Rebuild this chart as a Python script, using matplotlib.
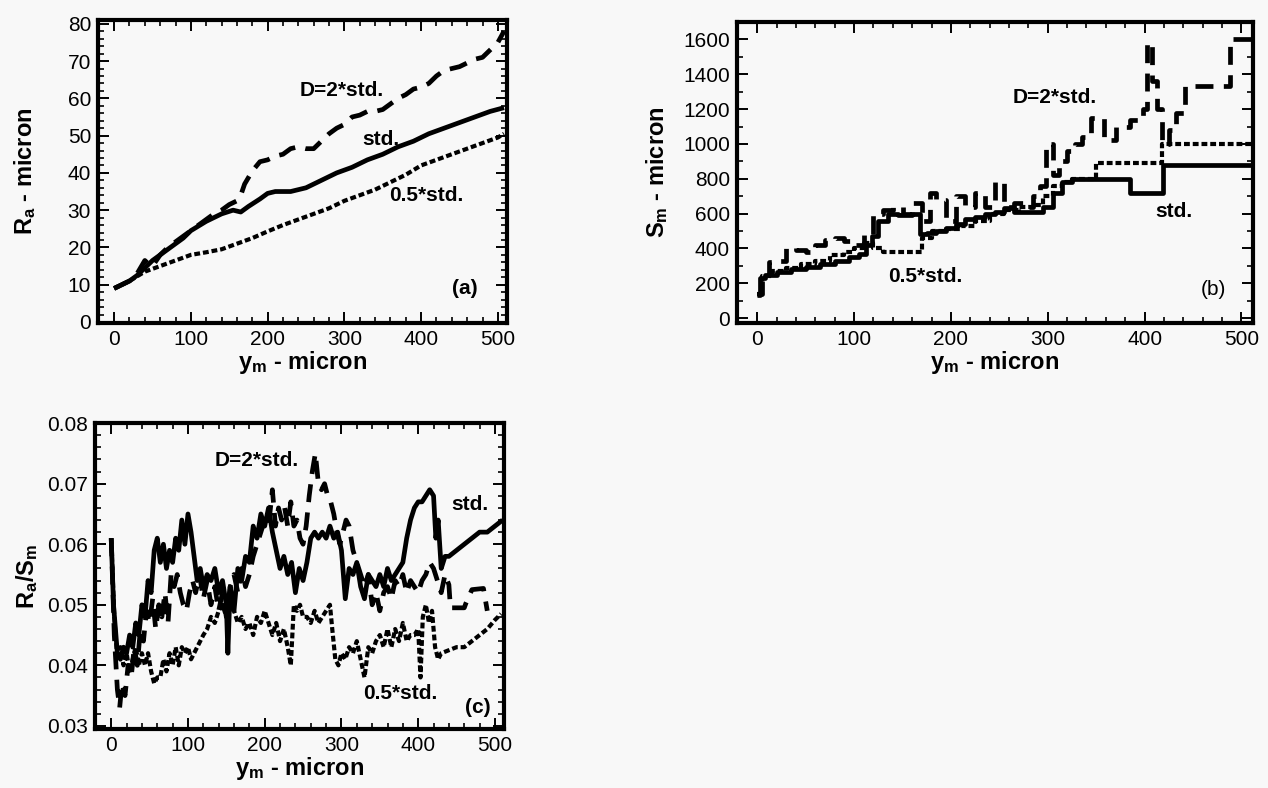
import numpy as np
import matplotlib
matplotlib.use("Agg")
import matplotlib.pyplot as plt
from matplotlib.ticker import MultipleLocator

plt.rcParams['font.family'] = ['Liberation Sans', 'DejaVu Sans']
plt.rcParams['mathtext.fontset'] = 'custom'
plt.rcParams['mathtext.bf'] = 'Liberation Sans:bold'
plt.rcParams['mathtext.rm'] = 'Liberation Sans'
plt.rcParams['mathtext.default'] = 'bf'

# ---- (a) R_a vs y_m ----
a_x_std = [0, 10, 20, 30, 40, 50, 60, 70, 80, 90, 100, 120, 140, 155, 165, 175, 190, 200, 210,
           230, 250, 270, 290, 310, 330, 350, 370, 390, 410, 430, 450, 470, 490, 508]
a_std = [9, 10, 11, 12.5, 14.5, 16.5, 18, 19.5, 21, 22.5, 24.5, 27, 29, 30, 29.5, 31, 33, 34.5, 35,
         35, 36, 38, 40, 41.5, 43.5, 45, 47, 48.5, 50.5, 52, 53.5, 55, 56.5, 57.5]

a_x_half = [0, 20, 40, 60, 80, 100, 120, 140, 160, 180, 200, 220, 240, 260, 280, 300, 320, 340,
            360, 380, 400, 420, 440, 460, 480, 500, 508]
a_half = [9, 11, 13.5, 15, 16.5, 18, 18.7, 19.5, 21, 22.5, 24.3, 26, 27.5, 29, 30.5, 32.5, 34, 35.5,
          37.5, 39.5, 42, 43.5, 45, 46.5, 48, 49.5, 50.5]

a_x_two = [0, 10, 20, 30, 40, 45, 50, 60, 70, 80, 90, 100, 110, 120, 130, 140, 150, 160, 165, 170,
           180, 190, 200, 210, 220, 230, 240, 250, 260, 270, 280, 290, 300, 310, 320, 330, 340, 350,
           360, 370, 380, 390, 400, 410, 420, 430, 440, 450, 460, 470, 480, 490, 500, 508]
a_two = [9, 10, 11, 13, 16.5, 15.5, 15, 18, 20, 21.5, 23, 24.5, 26, 27.5, 29, 30, 31.5, 32.5, 34, 37,
         40.5, 43, 43.5, 44.5, 45, 46.5, 47, 46.5, 46.5, 48.5, 50.5, 52, 53, 55, 55.5, 56.5, 56.5, 57,
         58.5, 60, 61, 62.5, 63, 64, 66, 67.5, 68, 68.5, 69.5, 70.5, 71, 73, 75, 78]

# ---- (b) S_m vs y_m (stepped) ----
b_x_std = [0, 3, 8, 20, 35, 50, 65, 80, 95, 105, 112, 118, 125, 135, 145, 160, 168, 175, 185, 195,
           205, 215, 225, 235, 245, 255, 265, 295, 305, 315, 325, 385, 419, 515]
b_std = [130, 230, 250, 265, 280, 295, 310, 330, 350, 370, 420, 470, 560, 600, 590, 600, 480, 490,
         500, 520, 540, 570, 580, 600, 610, 630, 610, 640, 720, 780, 800, 720, 880, 880]

b_x_half = [0, 5, 15, 30, 45, 60, 75, 90, 100, 110, 120, 130, 160, 170, 180, 195, 210, 225, 240,
            255, 270, 285, 295, 305, 315, 325, 350, 418, 515]
b_half = [140, 240, 270, 290, 310, 330, 360, 380, 400, 430, 400, 380, 380, 460, 500, 510, 530, 560,
          600, 620, 640, 650, 700, 760, 780, 800, 890, 1000, 1000]

b_x_two = [0, 5, 12, 20, 30, 40, 50, 60, 70, 80, 90, 100, 110, 120, 130, 140, 150, 160, 170, 178,
           185, 195, 205, 215, 225, 235, 245, 255, 265, 275, 285, 292, 298, 305, 312, 320, 328, 335,
           345, 358, 370, 385, 398, 403, 408, 413, 418, 425, 432, 442, 470, 488, 510]
b_two = [140, 250, 320, 330, 400, 390, 380, 420, 450, 460, 440, 420, 480, 600, 620, 640, 600, 660,
         560, 720, 680, 560, 700, 640, 720, 640, 780, 640, 660, 640, 700, 760, 1000, 820, 900, 960,
         1000, 1040, 1150, 1020, 1100, 1140, 1200, 1580, 1360, 1200, 1000, 1080, 1180, 1330, 1330,
         1600, 1610]

# ---- (c) R_a/S_m vs y_m ----
c_x_std = [0, 3, 8, 12, 16, 20, 24, 28, 32, 36, 40, 44, 48, 52, 56, 60, 64, 68, 72, 76, 80, 84, 88,
           92, 96, 100, 104, 108, 112, 116, 120, 125, 130, 135, 140, 145, 150, 152, 155, 160, 165,
           170, 175, 180, 185, 190, 195, 200, 205, 210, 215, 220, 225, 230, 235, 240, 245, 250, 255,
           260, 265, 270, 275, 280, 285, 290, 295, 300, 305, 310, 315, 320, 325, 330, 335, 340, 345,
           350, 355, 360, 365, 370, 375, 380, 385, 390, 395, 400, 405, 410, 415, 420, 423, 426, 430,
           435, 440, 450, 460, 470, 480, 490, 500, 510]
c_std = [0.061, 0.050, 0.042, 0.041, 0.043, 0.042, 0.045, 0.043, 0.047, 0.045, 0.050, 0.048, 0.054,
         0.052, 0.059, 0.061, 0.057, 0.060, 0.056, 0.059, 0.057, 0.061, 0.059, 0.064, 0.060, 0.065,
         0.062, 0.058, 0.054, 0.056, 0.053, 0.055, 0.054, 0.056, 0.052, 0.054, 0.050, 0.042, 0.053,
         0.049, 0.056, 0.054, 0.058, 0.057, 0.063, 0.061, 0.065, 0.063, 0.066, 0.062, 0.059, 0.056,
         0.058, 0.055, 0.057, 0.052, 0.056, 0.054, 0.057, 0.061, 0.062, 0.061, 0.062, 0.061, 0.063,
         0.061, 0.062, 0.059, 0.051, 0.056, 0.055, 0.057, 0.053, 0.051, 0.055, 0.054, 0.053, 0.055,
         0.053, 0.056, 0.054, 0.055, 0.056, 0.057, 0.061, 0.064, 0.066, 0.067, 0.067, 0.068, 0.069,
         0.068, 0.061, 0.064, 0.056, 0.058, 0.058, 0.059, 0.060, 0.061, 0.062, 0.062, 0.063, 0.064]

c_x_two = [0, 4, 8, 11, 14, 18, 22, 26, 30, 34, 38, 42, 46, 50, 54, 58, 62, 66, 70, 74, 78, 82, 86,
           90, 94, 98, 102, 106, 110, 115, 120, 125, 130, 135, 140, 145, 150, 155, 160, 165, 170,
           175, 180, 185, 190, 195, 200, 205, 210, 214, 218, 222, 226, 230, 234, 238, 242, 246, 250,
           254, 258, 262, 266, 270, 274, 278, 282, 286, 290, 294, 298, 302, 306, 310, 315, 320, 325,
           330, 335, 340, 345, 350, 355, 360, 365, 370, 375, 380, 385, 390, 395, 400, 405, 410, 415,
           420, 425, 430, 435, 440, 442, 460, 462, 470, 485, 490]
c_two = [0.061, 0.045, 0.036, 0.033, 0.037, 0.035, 0.040, 0.038, 0.043, 0.040, 0.046, 0.044, 0.049,
         0.047, 0.051, 0.046, 0.050, 0.048, 0.052, 0.047, 0.055, 0.053, 0.055, 0.052, 0.050, 0.049,
         0.052, 0.054, 0.052, 0.055, 0.051, 0.054, 0.050, 0.053, 0.049, 0.052, 0.048, 0.053, 0.055,
         0.052, 0.056, 0.053, 0.055, 0.058, 0.060, 0.062, 0.064, 0.063, 0.069, 0.063, 0.066, 0.064,
         0.066, 0.063, 0.067, 0.063, 0.064, 0.061, 0.060, 0.063, 0.068, 0.072, 0.075, 0.070, 0.069,
         0.070, 0.068, 0.067, 0.065, 0.062, 0.060, 0.062, 0.064, 0.063, 0.059, 0.057, 0.055, 0.053,
         0.055, 0.050, 0.052, 0.049, 0.052, 0.053, 0.051, 0.054, 0.053, 0.055, 0.052, 0.054, 0.053,
         0.052, 0.054, 0.055, 0.057, 0.056, 0.054, 0.052, 0.055, 0.0533, 0.0495, 0.0495, 0.0502,
         0.0525, 0.0527, 0.049]

c_x_half = [0, 4, 8, 12, 16, 20, 24, 28, 32, 36, 40, 44, 48, 52, 56, 60, 64, 68, 72, 76, 80, 84, 88,
            92, 96, 100, 104, 108, 112, 116, 120, 125, 130, 135, 140, 145, 150, 155, 160, 165, 170,
            175, 180, 185, 190, 195, 200, 205, 210, 215, 220, 225, 230, 234, 238, 242, 246, 250, 255,
            260, 265, 270, 275, 280, 285, 288, 292, 296, 300, 305, 310, 315, 320, 325, 330, 335, 340,
            345, 350, 355, 360, 365, 370, 375, 380, 385, 390, 395, 400, 403, 406, 410, 414, 418, 422,
            426, 430, 440, 450, 460, 470, 480, 490, 500, 508]
c_half = [0.061, 0.048, 0.041, 0.043, 0.040, 0.042, 0.039, 0.041, 0.043, 0.040, 0.042, 0.040, 0.042,
          0.039, 0.037, 0.038, 0.038, 0.041, 0.039, 0.042, 0.040, 0.043, 0.040, 0.043, 0.042, 0.043,
          0.041, 0.042, 0.043, 0.044, 0.045, 0.046, 0.048, 0.047, 0.049, 0.050, 0.048, 0.050, 0.049,
          0.047, 0.048, 0.046, 0.047, 0.045, 0.048, 0.047, 0.049, 0.047, 0.045, 0.047, 0.044, 0.046,
          0.043, 0.040, 0.050, 0.049, 0.050, 0.048, 0.048, 0.047, 0.049, 0.047, 0.048, 0.049, 0.050,
          0.046, 0.041, 0.040, 0.042, 0.041, 0.043, 0.042, 0.044, 0.041, 0.038, 0.043, 0.042, 0.044,
          0.045, 0.043, 0.046, 0.043, 0.046, 0.044, 0.047, 0.044, 0.045, 0.045, 0.046, 0.038, 0.048,
          0.050, 0.047, 0.049, 0.043, 0.041, 0.042, 0.0425, 0.043, 0.043, 0.044, 0.045, 0.046,
          0.0475, 0.0485]

bg = '#f8f8f8'
fig = plt.figure(figsize=(12.68, 7.88), dpi=100, facecolor=bg)
ax_a = fig.add_axes([0.0773, 0.590, 0.3226, 0.3845])
ax_b = fig.add_axes([0.5812, 0.590, 0.4070, 0.3820])
ax_c = fig.add_axes([0.0750, 0.075, 0.3226, 0.3880])

solid = dict(color='black', lw=3.4, solid_capstyle='butt')
dash_long = dict(color='black', lw=3.4, linestyle=(0, (3.8, 2.2)))
dash_short = dict(color='black', lw=3.0, linestyle=(0, (1.4, 0.7)))

ax_a.plot(a_x_std, a_std, **solid)
ax_a.plot(a_x_half, a_half, **dash_short)
ax_a.plot(a_x_two, a_two, **dash_long)

ax_b.plot(b_x_std, b_std, drawstyle='steps-post', **solid)
ax_b.plot(b_x_half, b_half, drawstyle='steps-post', **dash_short)
ax_b.plot(b_x_two, b_two, drawstyle='steps-post', **dash_long)

ax_c.plot(c_x_std, c_std, **solid)
ax_c.plot(c_x_half, c_half, **dash_short)
ax_c.plot(c_x_two, c_two, **dash_long)

for ax in (ax_a, ax_b, ax_c):
    ax.set_facecolor(bg)
    ax.set_xlim(-21, 512)
    ax.xaxis.set_major_locator(MultipleLocator(100))
    ax.xaxis.set_minor_locator(MultipleLocator(20))
    ax.tick_params(which='both', direction='in', top=True, right=True, labelsize=15, pad=5)
    ax.tick_params(which='major', length=8, width=1.4)
    ax.tick_params(which='minor', length=4, width=1.2)
    for s in ax.spines.values():
        s.set_linewidth(3)
    ax.set_xlabel('y$_m$ - micron', fontsize=17, fontweight='bold', labelpad=0)

ax_a.set_ylim(-0.3, 81)
ax_a.yaxis.set_major_locator(MultipleLocator(10))
ax_a.yaxis.set_minor_locator(MultipleLocator(2))
ax_a.set_ylabel('R$_a$ - micron', fontsize=17, fontweight='bold')
ax_a.yaxis.set_label_coords(-0.147, 0.5)

ax_b.set_ylim(-29, 1700)
ax_b.yaxis.set_major_locator(MultipleLocator(200))
ax_b.yaxis.set_minor_locator(MultipleLocator(100))
ax_b.set_ylabel('S$_m$ - micron', fontsize=17, fontweight='bold')
ax_b.yaxis.set_label_coords(-0.130, 0.5)

ax_c.set_ylim(0.0295, 0.08)
ax_c.yaxis.set_major_locator(MultipleLocator(0.01))
ax_c.yaxis.set_minor_locator(MultipleLocator(0.002))
ax_c.set_ylabel('R$_a$/S$_m$', fontsize=17, fontweight='bold')
ax_c.yaxis.set_label_coords(-0.134, 0.5)

tkw = dict(fontsize=15, fontweight='bold', ha='center', va='center')
ax_a.text(297, 62, 'D=2*std.', **tkw)
ax_a.text(347, 49, 'std.', **tkw)
ax_a.text(407, 34, '0.5*std.', **tkw)
ax_a.text(457, 9, '(a)', **tkw)

ax_b.text(307, 1264, 'D=2*std.', **tkw)
ax_b.text(430, 613, 'std.', **tkw)
ax_b.text(173, 240, '0.5*std.', **tkw)
ax_b.text(471, 163, '(b)', fontsize=15, ha='center', va='center')

ax_c.text(189, 0.0738, 'D=2*std.', **tkw)
ax_c.text(467, 0.0666, 'std.', **tkw)
ax_c.text(377, 0.0353, '0.5*std.', **tkw)
ax_c.text(478, 0.0330, '(c)', **tkw)

fig.savefig('out.png', dpi=100, facecolor=bg)
